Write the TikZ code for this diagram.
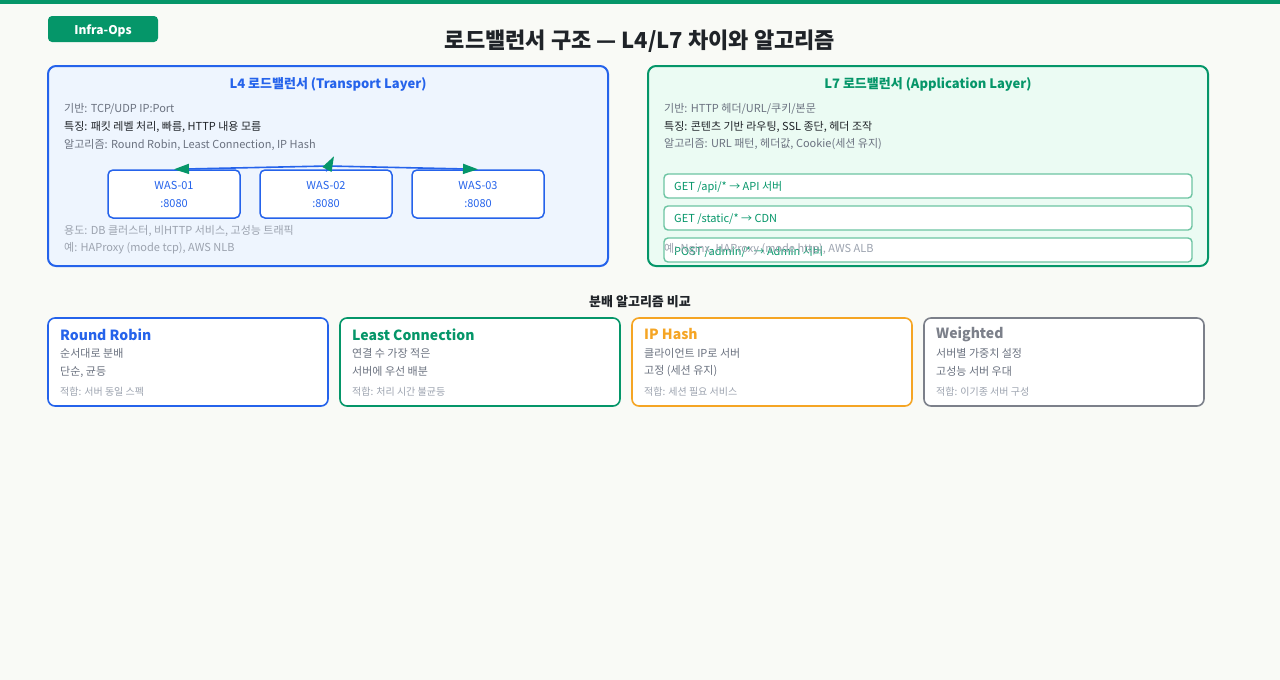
\documentclass[tikz,border=0pt]{standalone}
\usepackage{fontspec}
\setmainfont{Noto Sans CJK KR}
\usetikzlibrary{arrows.meta,calc}
\definecolor{bg}{HTML}{F9FAF6}
\definecolor{emer}{HTML}{059669}
\definecolor{blu}{HTML}{2563EB}
\definecolor{bluefill}{HTML}{EEF5FE}
\definecolor{greenfill}{HTML}{EBFBF3}
\definecolor{routeline}{HTML}{6CC4A2}
\definecolor{ink}{HTML}{1F2328}
\definecolor{gry}{HTML}{6B7280}
\definecolor{lgry}{HTML}{9CA3AF}
\definecolor{amber}{HTML}{F5A524}
\definecolor{slate}{HTML}{7C808A}
\newcommand\fsz[1]{\fontsize{#1}{#1}\selectfont}
\tikzset{
  txt/.style={anchor=west, inner sep=0pt, yshift=-1.5pt},
  ctr/.style={inner sep=0pt, yshift=-1.5pt},
  panel/.style={rounded corners=8pt, line width=2pt},
  wasbox/.style={draw=blu, line width=1.5pt, fill=white, rounded corners=5pt},
  routebox/.style={draw=routeline, line width=1.4pt, fill=white, rounded corners=4pt},
  card/.style={fill=white, line width=1.6pt, rounded corners=7pt},
  conn/.style={draw=blu, line width=1.6pt, -{Triangle[length=15pt,width=10pt,color=emer]}},
}
\begin{document}
\begin{tikzpicture}[x=1pt,y=-1pt]
\useasboundingbox (0,0) rectangle (1280,680);
\fill[bg] (0,0) rectangle (1280,680);
\fill[emer] (0,0) rectangle (1280,4);
% badge
\node[fill=emer, rounded corners=4pt, minimum width=110pt, minimum height=26pt, inner sep=0pt] (badge) at (103,29) {};
\node[ctr, text=white, font=\fsz{12}\bfseries] (badget) at (badge.center) {Infra-Ops};
\node[ctr, font=\fsz{22}\bfseries, text=ink] (title) at (640,40) {로드밸런서 구조 — L4/L7 차이와 알고리즘};

% L4 panel
\draw[panel, draw=blu, fill=bluefill] (48,66) rectangle (608,266);
\node[ctr, font=\fsz{13}\bfseries, text=blu] (l4t) at (328,83) {L4 로드밸런서 (Transport Layer)};
\node[txt, font=\fsz{11}, text=gry] (l4a) at (64,107) {기반: TCP/UDP IP:Port};
\node[txt, font=\fsz{11}, text=ink] (l4b) at (64,125) {특징: 패킷 레벨 처리, 빠름, HTTP 내용 모름};
\node[txt, font=\fsz{11}, text=gry] (l4c) at (64,143) {알고리즘: Round Robin, Least Connection, IP Hash};
\foreach \i/\x in {1/174,2/326,3/478}{
  \node[wasbox, minimum width=132pt, minimum height=48pt] (was\i) at (\x,194) {};
  \node[ctr, font=\fsz{11}, text=blu] (wasn\i) at (\x,184) {WAS-0\i};
  \node[ctr, font=\fsz{11}, text=blu] (wasp\i) at (\x,202) {:8080};
}
\coordinate (lb) at (328,166);
\draw[conn] (lb) -- (was1.north);
\draw[conn] (lb) -- (was3.north);
\draw[conn] ($(was2.north)+(0,2)$) -- ($(was2.north)+(8,-13)$);
\node[txt, font=\fsz{11}, text=lgry] (l4d) at (64,229) {용도: DB 클러스터, 비HTTP 서비스, 고성능 트래픽};
\node[txt, font=\fsz{11}, text=lgry] (l4e) at (64,247) {예: HAProxy (mode tcp), AWS NLB};

% L7 panel
\draw[panel, draw=emer, fill=greenfill] (648,66) rectangle (1208,266);
\node[ctr, font=\fsz{13}\bfseries, text=emer] (l7t) at (928,83) {L7 로드밸런서 (Application Layer)};
\node[txt, font=\fsz{11}, text=gry] (l7a) at (664,107) {기반: HTTP 헤더/URL/쿠키/본문};
\node[txt, font=\fsz{11}, text=ink] (l7b) at (664,125) {특징: 콘텐츠 기반 라우팅, SSL 종단, 헤더 조작};
\node[txt, font=\fsz{11}, text=gry] (l7c) at (664,143) {알고리즘: URL 패턴, 헤더값, Cookie(세션 유지)};
\foreach \i/\y/\t in {1/186/{GET /api/* → API 서버},2/218/{GET /static/* → CDN},3/250/{POST /admin/* → Admin 서버}}{
  \draw[routebox] (664,\y-12) rectangle (1192,\y+12);
  \node[txt, font=\fsz{11}, text=emer] (route\i) at (674,\y) {\t};
}
\node[txt, font=\fsz{11}, text=lgry] (l7e) at (664,248) {예: Nginx, HAProxy (mode http), AWS ALB};

% algorithms
\node[ctr, font=\fsz{13}\bfseries, text=ink] (algt) at (640,300) {분배 알고리즘 비교};
\foreach \i/\x/\c/\t/\a/\b/\s in {
  1/48/blu/{Round Robin}/{순서대로 분배}/{단순, 균등}/{적합: 서버 동일 스펙},
  2/340/emer/{Least Connection}/{연결 수 가장 적은}/{서버에 우선 배분}/{적합: 처리 시간 불균등},
  3/632/amber/{IP Hash}/{클라이언트 IP로 서버}/{고정 (세션 유지)}/{적합: 세션 필요 서비스},
  4/924/slate/{Weighted}/{서버별 가중치 설정}/{고성능 서버 우대}/{적합: 이기종 서버 구성}}{
  \draw[card, draw=\c] (\x,318) rectangle (\x+280,406);
  \node[txt, font=\fsz{14}\bfseries, text=\c] (cardt\i) at (\x+12,333) {\t};
  \node[txt, font=\fsz{11}, text=gry] (carda\i) at (\x+12,352) {\a};
  \node[txt, font=\fsz{11}, text=gry] (cardb\i) at (\x+12,370) {\b};
  \node[txt, font=\fsz{10}, text=lgry] (cards\i) at (\x+12,390) {\s};
}
\end{tikzpicture}
\end{document}
